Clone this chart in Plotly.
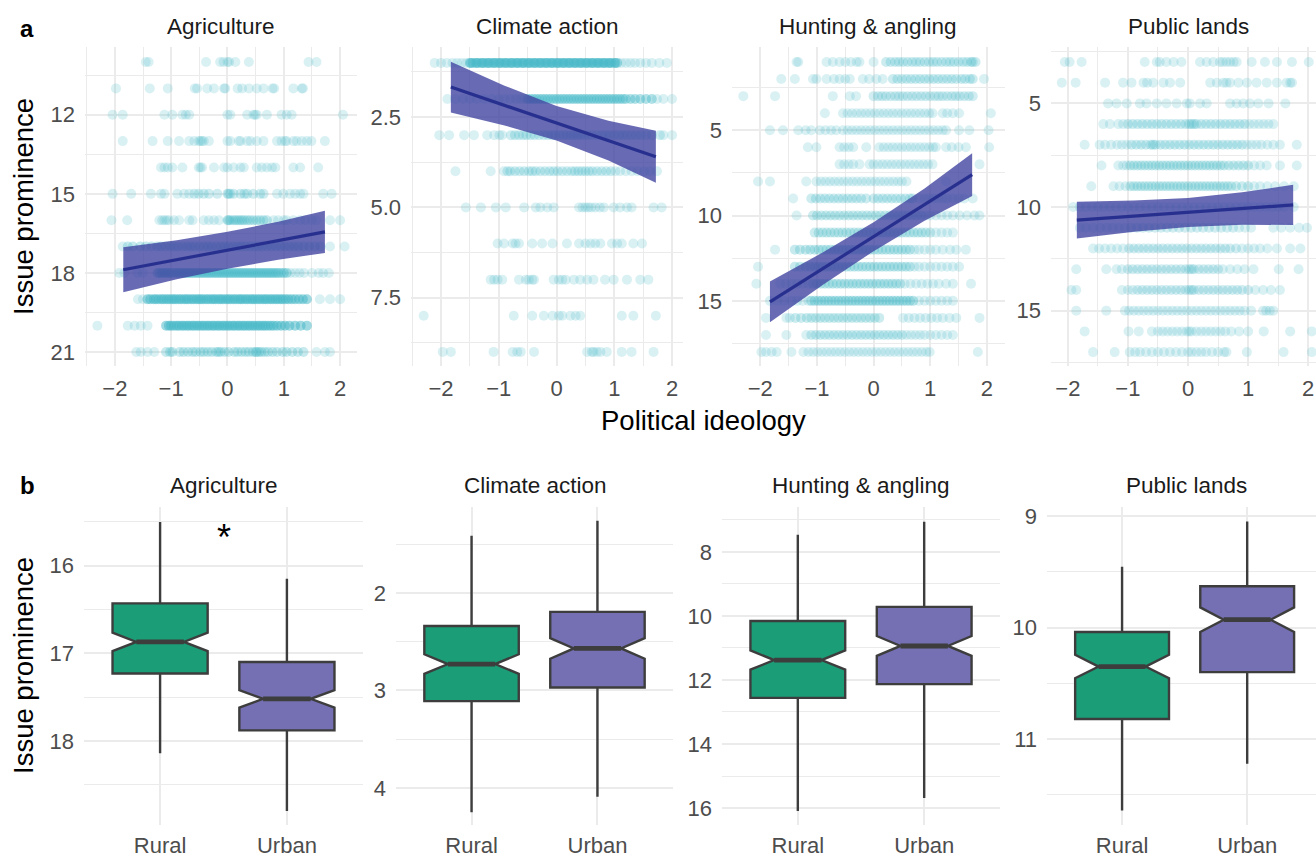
import plotly.graph_objects as go

W, H = 1316, 857
FONT = "Liberation Sans, Arial, sans-serif"

# ---------------- DATA: top row (points per response level) ----------------
panels = ["Agriculture", "Climate action", "Hunting & angling", "Public lands"]

agri_levels = [10, 11, 12, 13, 14, 15, 16, 17, 18, 19, 20, 21]
agri_rows = [
    "-1.45 -1.4 -0.38 -0.13 -0.07 0.0 0.03 0.14 0.38 1.44 1.58",
    "-1.98 -1.38 -1.06 -0.58 -0.54 -0.36 -0.24 -0.06 -0.04 0.18 0.26 0.38 0.52 0.64 0.8 0.83 1.17 1.32 1.34",
    "-2.04 -1.86 -1.12 -0.98 -0.8 -0.74 -0.68 0.0 0.05 0.35 0.46 0.49 0.52 0.7 0.96 1.05 1.14 2.05",
    "-1.86 -1.33 -1.06 -0.86 -0.68 -0.59 -0.51 -0.48 -0.45 -0.42 -0.33 0.0 0.05 0.2 0.23 0.35 0.41 0.52 0.64 0.88 0.96 1.02 1.05 1.17 1.23 1.32 1.41 1.49 1.73",
    "-1.18 -1.12 -1.06 -0.98 -0.8 -0.51 -0.48 -0.45 -0.24 -0.06 0.0 0.11 0.23 0.29 0.52 0.61 0.7 0.79 0.85 1.17 1.29 1.61",
    "-2.04 -1.71 -1.36 -1.18 -1.12 -0.89 -0.77 -0.68 -0.59 -0.51 -0.42 -0.33 -0.18 0.0 0.02 0.05 0.11 0.23 0.3 0.35 0.46 0.58 0.64 0.88 0.99 1.11 1.2 1.29 1.35 1.7 1.85",
    "-2.06 -1.78 -1.21 -1.16 -1.12 -1.08 -1.04 -0.95 -0.86 -0.68 -0.62 -0.42 -0.33 -0.24 -0.15 0.0 0.02 0.05 0.1 0.14 0.18 0.22 0.26 0.3 0.35 0.4 0.46 0.52 0.58 0.64 0.7 0.82 0.9 1.0 1.05 1.17 1.29 1.38 1.5 1.58 1.82 2.0",
    "-1.86 -1.77 -1.68 -1.55 -1.45 -1.35 -1.25 -1.18 -1.1 -1.02 -0.95 -0.88 -0.8 -0.72 -0.65 -0.58 -0.5 -0.42 -0.35 -0.28 -0.2 -0.12 -0.05 0.02 0.1 0.18 0.25 0.32 0.4 0.48 0.55 0.62 0.7 0.78 0.86 0.94 1.02 1.1 1.18 1.26 1.35 1.45 1.55 1.65 1.82 2.08",
    "-1.92 -1.83 -1.6 -1.5 -1.24 -1.2 -1.16 -1.12 -1.08 -1.04 -1.0 -0.95 -0.9 -0.86 -0.82 -0.78 -0.74 -0.7 -0.66 -0.62 -0.58 -0.54 -0.5 -0.46 -0.42 -0.38 -0.34 -0.3 -0.26 -0.22 -0.18 -0.14 -0.1 -0.06 -0.02 0.02 0.06 0.1 0.14 0.18 0.22 0.26 0.3 0.34 0.38 0.42 0.46 0.5 0.54 0.58 0.62 0.66 0.7 0.74 0.78 0.82 0.86 0.9 0.95 1.0 1.05 1.12 1.2 1.28 1.36 1.5 1.62 1.7 1.8",
    "-1.59 -1.5 -1.42 -1.37 -1.31 -1.27 -1.22 -1.17 -1.13 -1.08 -1.04 -0.99 -0.95 -0.91 -0.86 -0.82 -0.77 -0.73 -0.69 -0.64 -0.6 -0.55 -0.51 -0.47 -0.43 -0.38 -0.34 -0.29 -0.25 -0.21 -0.16 -0.12 -0.08 -0.03 0.01 0.05 0.1 0.14 0.19 0.23 0.27 0.32 0.36 0.41 0.45 0.49 0.54 0.58 0.63 0.67 0.71 0.76 0.8 0.85 0.89 0.94 0.98 1.03 1.08 1.14 1.2 1.27 1.34 1.41 1.64 1.82 2.0",
    "-2.31 -1.77 -1.65 -1.54 -1.42 -1.09 -1.04 -1.0 -0.95 -0.9 -0.86 -0.81 -0.77 -0.72 -0.68 -0.63 -0.59 -0.54 -0.5 -0.45 -0.41 -0.36 -0.32 -0.27 -0.23 -0.18 -0.14 -0.09 -0.05 0.0 0.04 0.09 0.13 0.18 0.22 0.27 0.31 0.36 0.4 0.45 0.49 0.54 0.58 0.63 0.67 0.72 0.77 0.82 0.88 0.95 1.02 1.1 1.2 1.3 1.41",
    "-1.62 -1.54 -1.42 -1.3 -1.09 -1.02 -0.98 -0.85 -0.78 -0.7 -0.62 -0.56 -0.48 -0.42 -0.35 -0.28 -0.2 -0.16 -0.12 -0.05 0.02 0.12 0.18 0.25 0.32 0.38 0.45 0.5 0.52 0.56 0.6 0.66 0.72 0.8 0.88 0.98 1.05 1.15 1.25 1.35 1.58 1.73 1.82",
]
# dense stretches (level, from, to, opacity of each point there)
agri_core = [(15, -0.6, 0.7, 0.26), (16, -0.05, 0.75, 0.3), (17, -1.8, 1.7, 0.3), (18, -1.24, 1.05, 0.42),
             (19, -1.42, 1.41, 0.52), (20, -1.09, 1.41, 0.52), (21, -1.1, 1.4, 0.3)]

clim_levels = [1, 1, 2, 3, 4, 5, 6, 7, 8, 9]
clim_rows = [
    "-2.11 -2.0 -1.9 -1.8 -1.72 -1.64 -1.56 -1.5 -1.45 -1.4 -1.35 -1.3 -1.25 -1.2 -1.15 -1.1 -1.05 -1.0 -0.95 -0.9 -0.85 -0.8 -0.75 -0.7 -0.65 -0.6 -0.55 -0.5 -0.45 -0.4 -0.35 -0.3 -0.25 -0.2 -0.15 -0.1 -0.05 0.0 0.05 0.1 0.15 0.2 0.25 0.3 0.35 0.4 0.45 0.5 0.55 0.6 0.65 0.7 0.75 0.8 0.85 0.9 0.95 1.0 1.05 1.12 1.2 1.28 1.36 1.45 1.55 1.65 1.78 1.91",
    "-1.48 -1.38 -1.28 -1.18 -1.08 -0.98 -0.88 -0.78 -0.68 -0.58 -0.48 -0.38 -0.28 -0.18 -0.08 0.02 0.12 0.22 0.32 0.42 0.52 0.62 0.72 0.82 0.92 1.02",
    "-1.89 -1.75 -1.62 -1.5 -1.38 -1.25 -1.12 -1.0 -0.9 -0.8 -0.7 -0.62 -0.55 -0.5 -0.45 -0.4 -0.35 -0.3 -0.25 -0.2 -0.15 -0.1 -0.05 0.0 0.05 0.1 0.15 0.2 0.25 0.3 0.35 0.4 0.45 0.5 0.55 0.6 0.65 0.7 0.75 0.8 0.85 0.9 0.95 1.0 1.05 1.1 1.15 1.2 1.28 1.36 1.45 1.55 1.65 1.74 1.85 2.0",
    "-2.03 -1.86 -1.6 -1.43 -1.2 -1.08 -0.99 -0.94 -0.79 -0.72 -0.65 -0.58 -0.52 -0.45 -0.38 -0.3 -0.22 -0.15 -0.08 -0.02 0.05 0.12 0.18 0.25 0.3 0.36 0.42 0.48 0.55 0.62 0.7 0.78 0.85 0.92 1.0 1.08 1.15 1.22 1.3 1.38 1.46 1.55 1.65 1.79 1.85 2.0",
    "-1.75 -1.14 -0.91 -0.85 -0.8 -0.72 -0.64 -0.56 -0.48 -0.42 -0.36 -0.28 -0.2 -0.12 -0.05 0.02 0.1 0.18 0.26 0.32 0.38 0.44 0.5 0.56 0.62 0.7 0.78 0.86 0.94 1.02 1.1 1.2 1.3 1.4 1.52 1.62 1.74",
    "-1.57 -1.31 -1.05 -0.88 -0.56 -0.36 -0.28 -0.16 -0.05 0.39 0.45 0.5 0.55 0.6 0.67 0.75 0.82 0.99 1.1 1.22 1.3 1.68 1.82",
    "-1.02 -0.91 -0.76 -0.71 -0.65 -0.42 -0.25 -0.07 0.18 0.39 0.5 0.59 0.67 0.76 0.96 1.05 1.13 1.33 1.48",
    "-1.14 -1.08 -1.02 -0.94 -0.65 -0.53 -0.48 -0.42 -0.39 -0.05 0.04 0.1 0.16 0.3 0.41 0.53 0.64 0.84 0.99 1.22 1.45 1.59",
    "-2.3 -0.74 -0.42 -0.22 -0.07 0.04 0.1 0.24 0.33 0.41 1.13 1.33 1.72",
    "-1.97 -1.83 -1.09 -0.76 -0.68 -0.62 -0.39 0.53 0.61 0.64 0.7 0.76 0.87 1.13 1.3 1.68",
]
clim_core = [(1, -1.54, 1.05, 0.45), (2, -0.5, 1.68, 0.42), (3, -0.8, 1.8, 0.26), (4, -0.9, 1.0, 0.26)]

hunt_levels = list(range(1, 19))
hunt_rows = [
    "-1.36 -1.33 -0.83 -0.72 -0.6 -0.5 -0.4 -0.3 -0.25 0.0 0.22 0.3 0.38 0.45 0.52 0.6 0.68 0.75 0.82 0.9 0.98 1.05 1.12 1.2 1.28 1.35 1.42 1.5 1.58 1.65 1.72 1.75 1.8",
    "-1.63 -1.39 -1.07 -1.01 -0.83 -0.7 -0.6 -0.5 -0.42 -0.19 -0.08 0.05 0.16 0.34 0.42 0.5 0.58 0.66 0.74 0.82 0.9 0.98 1.06 1.14 1.22 1.3 1.38 1.46 1.55 1.62 1.7 1.75 1.95",
    "-2.3 -1.74 -0.72 -0.42 -0.31 0.0 0.08 0.15 0.22 0.3 0.38 0.45 0.52 0.6 0.68 0.76 0.84 0.92 1.0 1.08 1.15 1.22 1.3 1.38 1.45 1.52 1.6 1.68 1.75",
    "-0.86 -0.54 -0.46 -0.38 -0.3 -0.22 -0.14 -0.06 0.02 0.1 0.18 0.26 0.34 0.42 0.5 0.58 0.66 0.74 0.82 0.9 0.98 1.04 1.22 1.3 1.4 1.51 2.07",
    "-1.83 -1.6 -1.33 -1.2 -1.1 -0.95 -0.85 -0.75 -0.66 -0.54 -0.46 -0.38 -0.3 -0.22 -0.14 -0.06 0.02 0.1 0.18 0.26 0.34 0.42 0.5 0.58 0.66 0.74 0.82 0.9 0.98 1.06 1.14 1.22 1.28 1.51 1.69 2.03",
    "-1.16 -1.01 -0.6 -0.52 -0.44 -0.36 -0.13 0.1 0.18 0.26 0.34 0.42 0.5 0.58 0.66 0.74 0.82 0.9 0.98 1.05 1.1 1.28 1.38 1.5 1.63 2.04",
    "-0.6 -0.52 -0.44 -0.36 -0.25 -0.07 0.0 0.08 0.16 0.24 0.32 0.4 0.48 0.56 0.64 0.72 0.8 0.88 0.96 1.04 1.87",
    "-2.04 -1.83 -1.19 -1.01 -0.93 -0.85 -0.77 -0.69 -0.61 -0.53 -0.45 -0.37 -0.29 -0.21 -0.13 -0.05 0.03 0.11 0.19 0.27 0.35 0.43 0.5 0.58 1.28",
    "-1.42 -1.1 -1.02 -0.94 -0.86 -0.78 -0.7 -0.62 -0.54 -0.46 -0.38 -0.3 -0.22 -0.13 0.0 0.08 0.16 0.24 0.32 0.4 0.48 0.56 0.64 0.69 0.81 0.9 0.98 1.06 1.14 1.22 1.3 1.4 1.5 1.6 1.75",
    "-1.36 -1.07 -1.0 -0.92 -0.84 -0.76 -0.68 -0.6 -0.52 -0.44 -0.36 -0.28 -0.2 -0.12 -0.04 0.04 0.12 0.2 0.28 0.36 0.44 0.52 0.6 0.68 0.76 0.84 0.92 1.0 1.1 1.2 1.3 1.4 1.52 1.65 1.78 1.87",
    "-1.04 -0.97 -0.9 -0.83 -0.76 -0.69 -0.62 -0.55 -0.48 -0.41 -0.34 -0.27 -0.2 -0.13 -0.06 0.01 0.08 0.15 0.22 0.29 0.36 0.43 0.5 0.57 0.64 0.71 0.78 0.85 0.92 1.0 1.1 1.2 1.3 1.4",
    "-1.74 -1.39 -1.3 -1.2 -1.12 -1.04 -0.97 -0.9 -0.83 -0.76 -0.69 -0.62 -0.55 -0.48 -0.41 -0.34 -0.27 -0.2 -0.13 -0.06 0.01 0.08 0.15 0.22 0.29 0.36 0.43 0.5 0.57 0.64 0.72 0.8 0.9 1.0 1.1 1.22 1.35 1.46 1.63",
    "-2.04 -1.39 -1.3 -1.2 -1.12 -1.04 -0.97 -0.9 -0.83 -0.76 -0.69 -0.62 -0.55 -0.48 -0.41 -0.34 -0.27 -0.2 -0.13 -0.06 0.01 0.08 0.15 0.22 0.29 0.36 0.43 0.5 0.57 0.64 0.72 0.8 0.9 1.0 1.1 1.2 1.3 1.4 1.51",
    "-2.07 -1.65 -1.55 -1.45 -1.35 -1.25 -1.15 -1.07 -1.0 -0.93 -0.86 -0.79 -0.72 -0.65 -0.58 -0.51 -0.44 -0.37 -0.3 -0.23 -0.16 -0.09 -0.02 0.05 0.12 0.19 0.26 0.33 0.4 0.47 0.55 0.65 0.75 0.85 0.95 1.05 1.15 1.28 1.4 1.72",
    "-1.83 -1.7 -1.58 -1.45 -1.35 -1.25 -1.15 -1.1 -1.04 -0.98 -0.92 -0.86 -0.8 -0.74 -0.68 -0.62 -0.56 -0.5 -0.44 -0.38 -0.32 -0.26 -0.2 -0.14 -0.08 -0.02 0.04 0.1 0.16 0.22 0.28 0.34 0.4 0.46 0.52 0.58 0.64 0.7 0.8 0.9 1.0 1.1 1.2 1.3 1.4",
    "-1.9 -1.54 -1.48 -1.38 -1.28 -1.18 -1.1 -1.02 -0.94 -0.86 -0.78 -0.7 -0.62 -0.54 -0.46 -0.38 -0.3 -0.22 -0.14 -0.06 0.02 0.1 0.52 0.62 0.72 0.82 0.92 1.02 1.12 1.22 1.34 1.46 1.87",
    "-1.9 -1.54 -1.19 -1.1 -1.02 -0.94 -0.86 -0.78 -0.7 -0.62 -0.54 -0.46 -0.38 -0.3 -0.22 -0.14 -0.06 0.02 0.1 0.18 0.26 0.34 0.42 0.5 0.58 0.66 0.74 0.82 0.9 1.0 1.1 1.2 1.3 1.4",
    "-1.98 -1.9 -1.8 -1.71 -1.45 -1.24 -1.15 -1.07 -0.99 -0.91 -0.83 -0.75 -0.67 -0.59 -0.51 -0.43 -0.35 -0.27 -0.19 -0.11 -0.03 0.05 0.13 0.21 0.29 0.37 0.45 0.53 0.61 0.69 0.77 0.85 0.93 0.99 1.84",
]
hunt_core = [(1, 0.2, 1.8, 0.27), (2, 0.3, 1.75, 0.27), (3, 0.0, 1.75, 0.25), (9, -1.1, 0.7, 0.27),
             (10, -1.1, 0.9, 0.28), (11, -1.05, 1.0, 0.28), (12, -1.4, 0.7, 0.3), (13, -1.4, 0.7, 0.3),
             (14, -1.1, 0.5, 0.3), (15, -1.1, 0.7, 0.36), (16, -1.4, 0.1, 0.28), (17, -1.1, 0.5, 0.27)]

pub_levels = list(range(3, 18))
pub_rows = [
    "-2.05 -1.97 -1.77 -0.72 -0.52 -0.47 -0.36 -0.24 -0.11 0.2 0.31 0.42 0.53 0.58 0.64 0.7 0.76 0.81 1.06 1.28 1.48 1.73 2.01",
    "-2.1 -1.87 -1.38 -1.08 -0.94 -0.74 -0.68 -0.58 -0.41 -0.3 -0.13 0.37 0.48 0.59 0.64 0.7 0.84 0.98 1.14 1.31 1.48 1.64 1.7 1.73",
    "-1.33 -1.19 -1.02 -0.8 -0.69 -0.52 -0.36 -0.19 -0.02 0.03 0.2 0.31 0.7 0.81 0.92 1.03 1.17 1.34 1.62",
    "-1.41 -1.3 -1.16 -1.08 -1.0 -0.92 -0.84 -0.76 -0.68 -0.6 -0.52 -0.44 -0.36 -0.28 -0.2 -0.12 -0.04 0.02 0.06 0.1 0.14 0.22 0.3 0.38 0.46 0.54 0.62 0.7 0.78 0.86 0.94 1.02 1.1 1.18 1.26 1.34 1.42",
    "-1.72 -1.47 -1.38 -1.28 -1.18 -1.1 -1.02 -0.94 -0.86 -0.78 -0.7 -0.62 -0.58 -0.54 -0.46 -0.38 -0.3 -0.22 -0.14 -0.06 0.02 0.1 0.18 0.26 0.34 0.42 0.5 0.58 0.66 0.74 0.82 0.9 0.98 1.06 1.14 1.22 1.32 1.42 1.53 1.81",
    "-1.44 -1.16 -1.08 -1.02 -0.96 -0.9 -0.84 -0.78 -0.72 -0.66 -0.6 -0.54 -0.48 -0.42 -0.36 -0.3 -0.24 -0.18 -0.12 -0.06 0.0 0.06 0.12 0.18 0.24 0.3 0.36 0.42 0.48 0.54 0.6 0.68 0.76 0.84 0.92 1.0 1.1 1.2 1.31 1.53 1.81",
    "-1.61 -1.24 -1.14 -1.04 -0.96 -0.9 -0.84 -0.78 -0.72 -0.66 -0.6 -0.54 -0.48 -0.42 -0.36 -0.3 -0.24 -0.18 -0.12 -0.06 0.0 0.06 0.12 0.18 0.24 0.3 0.36 0.42 0.48 0.54 0.6 0.66 0.72 0.8 0.9 1.0 1.1 1.2 1.32 1.45 1.6 1.76",
    "-1.91 -1.8 -1.7 -1.6 -1.5 -1.4 -1.3 -1.2 -1.1 -1.0 -0.9 -0.8 -0.7 -0.6 -0.5 -0.4 -0.3 -0.2 -0.1 0.0 0.1 0.2 0.3 0.4 0.5 0.6 0.7 0.8 0.9 1.0 1.1 1.2 1.3 1.4 1.5 1.6 1.76",
    "-1.8 -1.7 -1.58 -1.46 -1.35 -1.25 -1.15 -1.05 -0.95 -0.85 -0.75 -0.65 -0.55 -0.45 -0.35 -0.25 -0.15 -0.05 0.05 0.15 0.25 0.35 0.45 0.55 0.65 0.75 0.85 0.95 1.05 1.42 1.55 1.7 1.85 1.98",
    "-1.58 -1.48 -1.38 -1.28 -1.18 -1.08 -0.98 -0.9 -0.82 -0.74 -0.66 -0.58 -0.5 -0.42 -0.34 -0.26 -0.18 -0.1 -0.02 0.06 0.14 0.22 0.3 0.38 0.46 0.54 0.62 0.7 0.8 0.9 1.0 1.1 1.2 1.32 1.48 1.7 1.87",
    "-1.86 -1.36 -1.19 -1.1 -1.0 -0.92 -0.84 -0.76 -0.68 -0.6 -0.52 -0.44 -0.36 -0.28 -0.2 -0.12 -0.04 0.02 0.06 0.1 0.18 0.26 0.34 0.42 0.5 0.58 0.7 0.82 0.94 1.09 1.51 1.84",
    "-1.94 -1.86 -1.1 -1.0 -0.92 -0.84 -0.76 -0.68 -0.6 -0.52 -0.44 -0.36 -0.28 -0.2 -0.12 -0.04 0.02 0.06 0.1 0.18 0.26 0.34 0.42 0.5 0.58 0.66 0.74 0.82 0.9 1.0 1.12 1.25 1.38 1.53",
    "-1.86 -1.36 -1.05 -0.98 -0.9 -0.82 -0.74 -0.66 -0.58 -0.5 -0.42 -0.34 -0.26 -0.18 -0.1 -0.02 0.06 0.14 0.22 0.3 0.38 0.46 0.54 0.62 0.7 0.78 0.86 0.94 1.05 1.25 1.3 1.36 1.42",
    "-1.72 -0.99 -0.82 -0.6 -0.5 -0.42 -0.34 -0.26 -0.18 -0.1 -0.02 0.02 0.06 0.14 0.22 0.3 0.38 0.46 0.54 0.62 0.72 0.85 1.0 1.26 1.7 2.06",
    "-1.58 -1.22 -0.97 -0.88 -0.8 -0.7 -0.6 -0.5 -0.4 -0.3 -0.2 -0.1 0.0 0.06 0.14 0.22 0.3 0.4 0.5 0.6 0.64 0.98 1.59 2.06",
]
pub_core = [(6, -1.0, 1.0, 0.27), (7, -1.0, 0.9, 0.27), (8, -1.0, 1.0, 0.28), (9, -1.0, 1.0, 0.28),
            (11, -1.0, 0.8, 0.25), (12, -1.0, 0.8, 0.25), (13, -1.0, 0.5, 0.25), (14, -0.9, 1.0, 0.25)]

# ---------------- DATA: fitted lines with confidence bands ----------------
agri_fit_x = [-1.85, -0.9, 0.0, 0.9, 1.73]
agri_fit_y = [17.88, 17.50, 17.14, 16.78, 16.44]
agri_lo = [17.03, 16.76, 16.44, 16.06, 15.64]
agri_hi = [18.73, 18.24, 17.84, 17.50, 17.24]

clim_fit_x = [-1.83, -0.9, 0.0, 0.9, 1.72]
clim_fit_y = [1.67, 2.18, 2.67, 3.15, 3.60]
clim_lo = [0.97, 1.63, 2.19, 2.60, 2.88]
clim_hi = [2.37, 2.73, 3.15, 3.70, 4.32]

hunt_fit_x = [-1.83, -0.9, 0.0, 0.9, 1.74]
hunt_fit_y = [15.06, 13.12, 11.24, 9.36, 7.60]
hunt_lo = [13.86, 12.17, 10.39, 8.41, 6.35]
hunt_hi = [16.26, 14.07, 12.09, 10.31, 8.85]

pub_fit_x = [-1.85, -0.9, 0.0, 0.9, 1.75]
pub_fit_y = [10.63, 10.44, 10.26, 10.07, 9.90]
pub_lo = [9.74, 9.69, 9.56, 9.29, 8.93]
pub_hi = [11.52, 11.19, 10.96, 10.85, 10.87]

# ---------------- DATA: boxplots (Rural, Urban) ----------------
groups = ["Rural", "Urban"]
box_q1 = [[16.43, 17.10], [2.34, 2.195], [10.16, 9.72], [10.04, 9.63]]
box_med = [[16.87, 17.52], [2.73, 2.57], [11.38, 10.94], [10.35, 9.93]]
box_q3 = [[17.23, 17.88], [3.11, 2.97], [12.56, 12.13], [10.82, 10.40]]
box_lowf = [[15.50, 16.15], [1.415, 1.26], [7.47, 7.06], [9.455, 9.05]]
box_upf = [[18.14, 18.80], [4.25, 4.09], [16.09, 15.69], [11.64, 11.22]]
box_notch = [[0.105, 0.10], [0.10, 0.105], [0.30, 0.31], [0.105, 0.11]]

# ---------------- axis specs ----------------
top_xdom = [(85, 357), (411, 683), (732, 1005), (1051, 1316)]
bot_xdom = [(84, 363), (396, 673), (722, 1000), (1047, 1316)]
top_ydom = (47, 366)
bot_ydom = (507, 825)

top_xrange = [[-2.53, 2.30], [-2.52, 2.19], [-2.50, 2.32], [-2.28, 2.13]]
top_yrange = [[21.53, 9.43], [9.39, 0.56], [18.82, 0.12], [17.67, 2.28]]
top_yticks = [[12, 15, 18, 21], [2.5, 5.0, 7.5], [5, 10, 15], [5, 10, 15]]
top_yticktext = [["12", "15", "18", "21"], ["2.5", "5.0", "7.5"], ["5", "10", "15"], ["5", "10", "15"]]
top_yminor = [[10.5, 13.5, 16.5, 19.5], [1.25, 3.75, 6.25, 8.75], [2.5, 7.5, 12.5, 17.5], [2.5, 7.5, 12.5, 17.5]]
x_ticks = [-2, -1, 0, 1, 2]
x_ticktext = ["\u22122", "\u22121", "0", "1", "2"]
x_minor = [-2.5, -1.5, -0.5, 0.5, 1.5, 2.5]

bot_xrange = [[0.4, 2.6], [0.4, 2.6], [0.4, 2.6], [0.4, 2.55]]
bot_yrange = [[18.96, 15.33], [4.38, 1.12], [16.53, 6.6], [11.77, 8.92]]
bot_yticks = [[16, 17, 18], [2, 3, 4], [8, 10, 12, 14, 16], [9, 10, 11]]
bot_yminor = [[15.5, 16.5, 17.5, 18.5], [1.5, 2.5, 3.5], [7, 9, 11, 13, 15], [9.5, 10.5, 11.5]]

top_strip_x = [221, 547, 868, 1188]
bot_strip_x = [223.5, 535.5, 860.5, 1186]

POINT_RGB = "71,185,199"
POINT_ALPHA = 0.2
BAND_COL = "rgba(66,69,161,0.8)"
LINE_COL = "#28308f"
BOX_FILL = ["#1b9e77", "#7570b3"]
BOX_LINE = "#3d3d3d"
GRID = "#ebebeb"

def fx(p):
    return p / W

def fy(p):
    return 1 - p / H

fig = go.Figure()

point_sets = [(agri_levels, agri_rows, agri_core), (clim_levels, clim_rows, clim_core),
              (hunt_levels, hunt_rows, hunt_core), (pub_levels, pub_rows, pub_core)]
fits = [(agri_fit_x, agri_fit_y, agri_lo, agri_hi), (clim_fit_x, clim_fit_y, clim_lo, clim_hi),
        (hunt_fit_x, hunt_fit_y, hunt_lo, hunt_hi), (pub_fit_x, pub_fit_y, pub_lo, pub_hi)]

for i in range(4):
    xa, ya = f"x{i+1}", f"y{i+1}"
    levels, rows, core = point_sets[i]
    xs, ys, cols = [], [], []
    for lvl, row in zip(levels, rows):
        for v in row.split():
            xv = float(v)
            a = POINT_ALPHA
            for (cl, c0, c1, ca) in core:
                if cl == lvl and c0 <= xv <= c1:
                    a = ca
            xs.append(xv)
            ys.append(lvl)
            cols.append(f"rgba({POINT_RGB},{a})")
    fig.add_trace(go.Scatter(x=xs, y=ys, mode="markers", xaxis=xa, yaxis=ya,
                             marker=dict(size=10, color=cols, line=dict(width=0)),
                             hoverinfo="skip", showlegend=False))
    bx, by, lo, hi = fits[i]
    fig.add_trace(go.Scatter(x=bx + bx[::-1], y=lo + hi[::-1], mode="lines", fill="toself",
                             fillcolor=BAND_COL, line=dict(width=0), xaxis=xa, yaxis=ya,
                             hoverinfo="skip", showlegend=False))
    fig.add_trace(go.Scatter(x=bx, y=by, mode="lines", line=dict(color=LINE_COL, width=3.2),
                             xaxis=xa, yaxis=ya, hoverinfo="skip", showlegend=False))

BOX_W = 0.75
for i in range(4):
    xa, ya = f"x{i+5}", f"y{i+5}"
    for g in range(2):
        fig.add_trace(go.Box(
            x=[g + 1], q1=[box_q1[i][g]], median=[box_med[i][g]], q3=[box_q3[i][g]],
            lowerfence=[box_lowf[i][g]], upperfence=[box_upf[i][g]], notchspan=[box_notch[i][g]],
            notched=True, notchwidth=0.25, width=BOX_W, whiskerwidth=0, boxpoints=False,
            fillcolor=BOX_FILL[g], line=dict(color=BOX_LINE, width=2.4),
            xaxis=xa, yaxis=ya, hoverinfo="skip", showlegend=False))
        fig.add_trace(go.Scatter(
            x=[g + 1 - BOX_W / 4, g + 1 + BOX_W / 4], y=[box_med[i][g], box_med[i][g]],
            mode="lines", line=dict(color=BOX_LINE, width=4.8), xaxis=xa, yaxis=ya,
            hoverinfo="skip", showlegend=False))

tickfont = dict(family=FONT, size=22, color="#4d4d4d")
layout = dict(width=W, height=H, margin=dict(l=0, r=0, t=0, b=0, autoexpand=False),
              paper_bgcolor="white", plot_bgcolor="white", showlegend=False,
              font=dict(family=FONT))

def axis_base():
    return dict(showgrid=True, gridcolor=GRID, gridwidth=1.6, zeroline=False, showline=False,
                ticks="", tickfont=tickfont, ticklabelstandoff=9, automargin=False)

for i in range(4):
    n = i + 1
    xa = axis_base()
    xa.update(domain=[fx(top_xdom[i][0]), fx(top_xdom[i][1])], range=top_xrange[i],
              tickmode="array", tickvals=x_ticks, ticktext=x_ticktext, anchor=f"y{n}", ticklabelstandoff=7,
              minor=dict(tickmode="array", tickvals=x_minor, showgrid=True, gridcolor=GRID, gridwidth=0.8))
    ya = axis_base()
    ya.update(domain=[fy(top_ydom[1]), fy(top_ydom[0])], range=top_yrange[i],
              tickmode="array", tickvals=top_yticks[i], ticktext=top_yticktext[i], anchor=f"x{n}",
              minor=dict(tickmode="array", tickvals=top_yminor[i], showgrid=True, gridcolor=GRID, gridwidth=0.8))
    layout["xaxis" if n == 1 else f"xaxis{n}"] = xa
    layout["yaxis" if n == 1 else f"yaxis{n}"] = ya

for i in range(4):
    n = i + 5
    xa = axis_base()
    xa.update(domain=[fx(bot_xdom[i][0]), fx(bot_xdom[i][1])], range=bot_xrange[i],
              tickmode="array", tickvals=[1, 2], ticktext=groups, anchor=f"y{n}", ticklabelstandoff=5)
    ya = axis_base()
    ya.update(domain=[fy(bot_ydom[1]), fy(bot_ydom[0])], range=bot_yrange[i],
              tickmode="array", tickvals=bot_yticks[i], ticktext=[str(v) for v in bot_yticks[i]],
              anchor=f"x{n}",
              minor=dict(tickmode="array", tickvals=bot_yminor[i], showgrid=True, gridcolor=GRID, gridwidth=0.8))
    layout[f"xaxis{n}"] = xa
    layout[f"yaxis{n}"] = ya

annotations = []
stripfont = dict(family=FONT, size=22.5, color="#1a1a1a")
for i in range(4):
    annotations.append(dict(text=panels[i], x=fx(top_strip_x[i]), y=fy(26), xref="paper", yref="paper",
                            showarrow=False, font=stripfont, xanchor="center", yanchor="middle"))
    annotations.append(dict(text=panels[i], x=fx(bot_strip_x[i]), y=fy(485), xref="paper", yref="paper",
                            showarrow=False, font=stripfont, xanchor="center", yanchor="middle"))
annotations.append(dict(text="Issue prominence", x=fx(23), y=fy(207), xref="paper", yref="paper",
                        textangle=-90, showarrow=False, font=dict(family=FONT, size=27.5, color="#000"),
                        xanchor="center", yanchor="middle"))
annotations.append(dict(text="Issue prominence", x=fx(23), y=fy(666), xref="paper", yref="paper",
                        textangle=-90, showarrow=False, font=dict(family=FONT, size=27.5, color="#000"),
                        xanchor="center", yanchor="middle"))
annotations.append(dict(text="Political ideology", x=fx(703), y=fy(421), xref="paper", yref="paper",
                        showarrow=False, font=dict(family=FONT, size=27.5, color="#000"),
                        xanchor="center", yanchor="middle"))
annotations.append(dict(text="<b>a</b>", x=fx(27), y=fy(28), xref="paper", yref="paper",
                        showarrow=False, font=dict(family=FONT, size=24, color="#000"), xanchor="center", yanchor="middle"))
annotations.append(dict(text="<b>b</b>", x=fx(27), y=fy(485), xref="paper", yref="paper",
                        showarrow=False, font=dict(family=FONT, size=24, color="#000"), xanchor="center", yanchor="middle"))
annotations.append(dict(text="*", x=1.5, y=15.68, xref="x5", yref="y5", showarrow=False,
                        font=dict(family=FONT, size=36, color="#000"), xanchor="center", yanchor="middle"))
layout["annotations"] = annotations

fig.update_layout(**layout)
fig.write_html("out.html", config={"displayModeBar": False},
               post_script="document.body.style.margin='0';document.body.style.overflow='hidden';")
